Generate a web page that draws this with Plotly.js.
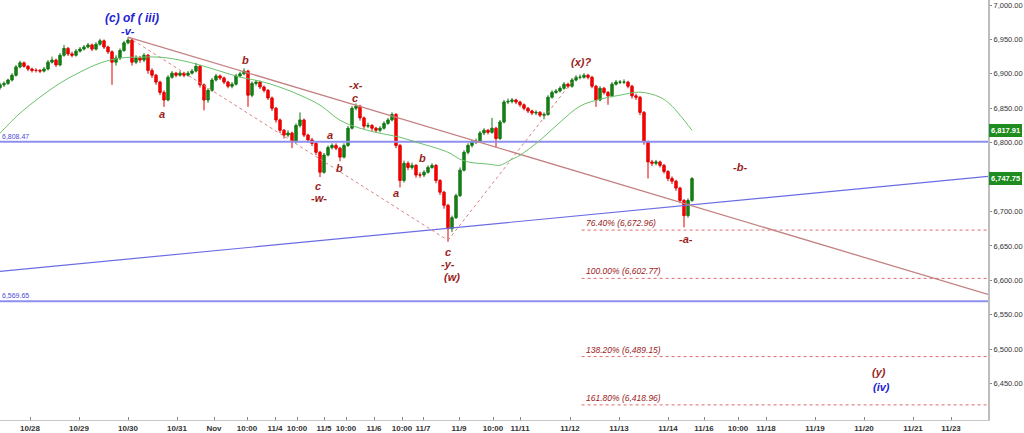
<!DOCTYPE html>
<html>
<head>
<meta charset="utf-8">
<script src="https://cdn.plot.ly/plotly-3.0.1.min.js"></script>
<style>html,body{margin:0;padding:0;background:#fff}#chart{width:1024px;height:433px}</style>
</head>
<body>
<div id="chart"></div>
<script>
// ---- price bars (one bar per slot) ----
const openP = [6880,6884,6886,6891,6898,6910,6916,6911,6907,6905,6905,6904,6907,6917,6920,6913,6927,6937,6929,6927,6933,6936,6939,6942,6936,6943,6948,6939,6932,6917,6923,6934,6945,6949,6917,6923,6920,6927,6905,6898,6888,6873,6862,6895,6901,6898,6901,6898,6901,6904,6911,6884,6862,6876,6891,6897,6894,6888,6882,6885,6897,6900,6904,6869,6886,6888,6881,6876,6865,6850,6833,6818,6811,6814,6801,6825,6833,6811,6804,6799,6786,6757,6782,6793,6796,6792,6779,6796,6821,6850,6853,6836,6824,6825,6821,6818,6821,6828,6833,6841,6796,6745,6770,6764,6767,6753,6753,6757,6764,6767,6745,6728,6709,6675,6691,6723,6760,6786,6796,6801,6802,6814,6818,6815,6821,6806,6830,6859,6860,6862,6859,6855,6850,6846,6843,6844,6840,6841,6866,6873,6875,6879,6885,6882,6891,6895,6895,6898,6895,6882,6862,6879,6873,6868,6885,6888,6888,6888,6882,6868,6866,6844,6801,6772,6770,6772,6767,6758,6748,6744,6734,6716,6694,6716];
const highP = [6887,6889,6893,6901,6913,6919,6918,6913,6909,6908,6907,6910,6920,6925,6922,6930,6942,6939,6932,6936,6939,6942,6945,6944,6946,6951,6950,6941,6934,6927,6937,6948,6953,6951,6927,6926,6930,6929,6908,6900,6890,6876,6898,6904,6903,6904,6903,6904,6907,6916,6913,6886,6879,6894,6900,6899,6896,6890,6888,6900,6903,6908,6906,6889,6891,6890,6883,6878,6867,6852,6835,6820,6818,6816,6828,6844,6835,6813,6807,6801,6788,6785,6796,6799,6799,6794,6799,6824,6853,6857,6855,6838,6829,6827,6823,6824,6831,6836,6844,6843,6798,6774,6773,6771,6769,6757,6760,6767,6770,6769,6747,6730,6711,6694,6726,6764,6789,6799,6804,6806,6817,6821,6820,6836,6823,6833,6862,6864,6865,6864,6861,6857,6852,6848,6847,6846,6844,6869,6876,6878,6882,6888,6887,6894,6898,6899,6901,6900,6897,6884,6882,6881,6875,6888,6891,6891,6892,6890,6884,6871,6868,6846,6803,6775,6775,6774,6769,6760,6751,6746,6736,6718,6719,6750];
const lowP = [6877,6881,6884,6889,6896,6908,6909,6904,6902,6902,6901,6902,6905,6915,6910,6911,6925,6926,6924,6925,6931,6934,6937,6933,6934,6941,6936,6929,6884,6912,6920,6932,6943,6912,6914,6916,6917,6900,6894,6884,6869,6852,6860,6893,6895,6896,6895,6896,6899,6902,6880,6847,6858,6874,6889,6891,6885,6879,6879,6883,6895,6898,6852,6866,6883,6878,6873,6862,6846,6829,6814,6806,6808,6792,6799,6822,6808,6800,6795,6782,6750,6755,6780,6790,6789,6773,6777,6794,6819,6847,6832,6820,6821,6817,6814,6815,6819,6826,6831,6792,6735,6742,6760,6761,6749,6749,6750,6755,6762,6741,6724,6704,6656,6670,6689,6721,6758,6783,6793,6798,6800,6811,6812,6813,6793,6804,6828,6856,6857,6856,6852,6847,6843,6840,6840,6837,6834,6839,6864,6871,6873,6877,6879,6880,6889,6892,6893,6892,6879,6852,6860,6870,6855,6866,6883,6885,6885,6879,6864,6862,6840,6797,6748,6766,6767,6764,6755,6744,6740,6730,6712,6677,6691,6714];
const closeP = [6884,6886,6891,6898,6910,6916,6911,6907,6905,6905,6904,6907,6917,6920,6913,6927,6937,6929,6927,6933,6936,6939,6942,6936,6943,6948,6939,6932,6917,6923,6934,6945,6949,6917,6923,6920,6927,6905,6898,6888,6873,6862,6895,6901,6898,6901,6898,6901,6904,6911,6884,6862,6876,6891,6897,6894,6888,6882,6885,6897,6900,6904,6869,6886,6888,6881,6876,6865,6850,6833,6818,6811,6814,6801,6825,6833,6811,6804,6799,6786,6757,6782,6793,6796,6792,6779,6796,6821,6850,6853,6836,6824,6825,6821,6818,6821,6828,6833,6841,6796,6745,6770,6764,6767,6753,6753,6757,6764,6767,6745,6728,6709,6675,6691,6723,6760,6786,6796,6801,6802,6814,6818,6815,6821,6806,6830,6859,6860,6862,6859,6855,6850,6846,6843,6844,6840,6841,6866,6873,6875,6879,6885,6882,6891,6895,6895,6898,6895,6882,6862,6879,6873,6868,6885,6888,6888,6888,6882,6868,6866,6844,6801,6772,6770,6772,6767,6758,6748,6744,6734,6716,6694,6716,6747.75];

// ---- moving average (green) ----
const maX = [0,5,10,15,20,25,30,35,40,45,50,55,60,65,70,75,80,85,90,95,100,105,110,112.5,115,117.5,122.5,125,127.5,130,135,140,145,150,155,160,165,167.5,170,173];
const maV = [6813.7,6842.8,6866.1,6886.5,6902.5,6915.6,6922.9,6924.3,6924.3,6920.0,6912.7,6904.0,6895.2,6889.4,6880.6,6869.0,6854.5,6832.6,6821.0,6813.7,6807.9,6799.1,6790.4,6784.6,6775.9,6771.5,6768.6,6767.1,6774.4,6781.7,6803.5,6829.7,6853.0,6863.2,6869.0,6873.4,6866.1,6855.9,6839.9,6817.91];

// ---- trend lines (endpoints) ----
const upLineX = [0, 247],   upLineY = [6613, 6751];
const downLineX = [32, 247], downLineY = [6953.4, 6579.5];
const dotAX = [32, 112],    dotAY = [6953.4, 6658];
const dotBX = [112, 144],   dotBY = [6658, 6896];

// ---- horizontal levels ----
const levelLabels = ["6,808.47", "6,569.65"];
const levelDrawn  = [6801.3, 6569.65];

// ---- fibonacci projections ----
const fibPct = [76.40, 100.00, 138.20, 161.80];
const fibVal = [6672.96, 6602.77, 6489.15, 6418.96];
const fibStart = 145.4, axisEnd = 247;

// ---- axis ticks ----
const tickPos = [7.5,19.75,32,44.25,53.5,61.75,68.75,74.25,81,86.5,93.5,100.5,105.75,114.75,123.25,130,142.5,154.75,167,176,184.5,191.5,203.75,216,228.25,237.75];
const tickTxt = ["10/28","10/29","10/30","10/31","Nov","10:00","11/4","10:00","11/5","10:00","11/6","10:00","11/7","11/9","10:00","11/11","11/12","11/13","11/14","11/16","10:00","11/18","11/19","11/20","11/21","11/23"];
const priceTicks = [7000,6950,6900,6850,6800,6700,6650,6600,6550,6500,6450];

// ---- wave labels ----
const waveTxt = ["a","b","c","-w-","a","b","-x-","c","a","b","c","-y-","(w)","(x)?","-b-","-a-","(y)"];
const waveX   = [40.5,61.25,79.5,79.75,82.5,84.75,89,88.75,99,105.5,112,112,113,145.25,185,171.5,219.75];
const waveY   = [6841,6920,6736.5,6719,6810.8,6762.7,6883.6,6864.6,6726.4,6777.3,6640.5,6623,6605.5,6917,6764.2,6659.4,6467.2];
const blueTxt = ["(c) of ( iii)","-v-","(iv)"];
const blueX   = [33,32,220.25];
const blueY   = [6981,6962.5,6445.4];

const xs = closeP.map((_, i) => i);
const RED = '#9a1d1d', BLUE = '#2323d2';
const FONT = 'Liberation Sans, Arial, sans-serif';

const traces = [];
levelDrawn.forEach(v => traces.push({type:'scatter', mode:'lines', x:[0, axisEnd], y:[v, v],
  line:{color:'#8f8ff0', width:2}, hoverinfo:'skip', showlegend:false}));
traces.push({type:'scatter', mode:'lines', x:upLineX, y:upLineY, line:{color:'#6c6ce6', width:1.2}, showlegend:false});
fibVal.forEach(v => traces.push({type:'scatter', mode:'lines', x:[fibStart, axisEnd], y:[v, v],
  line:{color:'#e06a6a', width:1, dash:'dot'}, showlegend:false}));
traces.push({type:'scatter', mode:'lines', x:dotAX, y:dotAY, line:{color:'#d98080', width:1, dash:'dot'}, showlegend:false});
traces.push({type:'scatter', mode:'lines', x:dotBX, y:dotBY, line:{color:'#d98080', width:1, dash:'dot'}, showlegend:false});
traces.push({type:'scatter', mode:'lines', x:downLineX, y:downLineY, line:{color:'#c48282', width:1.3}, showlegend:false});
traces.push({type:'scatter', mode:'lines', x:maX, y:maV, line:{color:'#6cc26c', width:1, shape:'spline'}, showlegend:false});
traces.push({type:'candlestick', x:xs, open:openP, high:highP, low:lowP, close:closeP,
  increasing:{line:{color:'#127512', width:1}, fillcolor:'#168516'},
  decreasing:{line:{color:'#e00000', width:1}, fillcolor:'#ff0000'},
  whiskerwidth:0, opacity:1, showlegend:false});

const ann = [];
waveTxt.forEach((t, i) => ann.push({x:waveX[i], y:waveY[i], text:'<b><i>'+t+'</i></b>', showarrow:false,
  font:{family:FONT, size:11, color:RED}}));
blueTxt.forEach((t, i) => ann.push({x:blueX[i], y:blueY[i], text:'<b><i>'+t+'</i></b>', showarrow:false,
  font:{family:FONT, size:i===0?12:11, color:BLUE}}));
fibVal.forEach((v, i) => ann.push({x:fibStart+0.6, y:v, xanchor:'left', yanchor:'bottom',
  text:'<i>'+fibPct[i].toFixed(2)+'% ('+v.toLocaleString('en-US',{minimumFractionDigits:2})+')</i>',
  showarrow:false, font:{family:FONT, size:8.5, color:RED}}));
levelDrawn.forEach((v, i) => ann.push({x:0, y:v, xanchor:'left', yanchor:'bottom', text:levelLabels[i],
  showarrow:false, font:{family:FONT, size:7, color:'#4a4ad8'}}));
[maV[maV.length-1], closeP[closeP.length-1]].forEach(v => ann.push({xref:'paper', x:1, xanchor:'left', xshift:1, y:v,
  text:'<b>'+v.toLocaleString('en-US',{minimumFractionDigits:2})+'</b>', showarrow:false,
  bgcolor:'#1e8c1e', bordercolor:'#1e8c1e', borderpad:1, font:{family:FONT, size:7.5, color:'#ffffff'}}));

const layout = {
  width:1024, height:433,
  margin:{l:0, r:36, t:0, b:13, pad:0},
  paper_bgcolor:'#ffffff', plot_bgcolor:'#ffffff',
  showlegend:false, boxgap:0.15,
  xaxis:{type:'linear', range:[0, axisEnd], showgrid:false, zeroline:false,
    rangeslider:{visible:false}, tickmode:'array', tickvals:tickPos, ticktext:tickTxt,
    ticks:'inside', ticklen:3, tickcolor:'#888', showline:true, linecolor:'#c8c8c8', linewidth:1,
    tickfont:{family:FONT, size:8, color:'#333', weight:'bold'}},
  yaxis:{side:'right', range:[6397, 7007.3], showgrid:false, zeroline:false,
    tickmode:'array', tickvals:priceTicks,
    tickformat:',.2f', ticks:'outside', ticklen:2, tickcolor:'#888', showline:true,
    linecolor:'#bdbdbd', linewidth:2, tickfont:{family:FONT, size:7.5, color:'#333'}},
  annotations:ann
};
Plotly.newPlot('chart', traces, layout, {staticPlot:true, displayModeBar:false});
</script>
</body>
</html>
